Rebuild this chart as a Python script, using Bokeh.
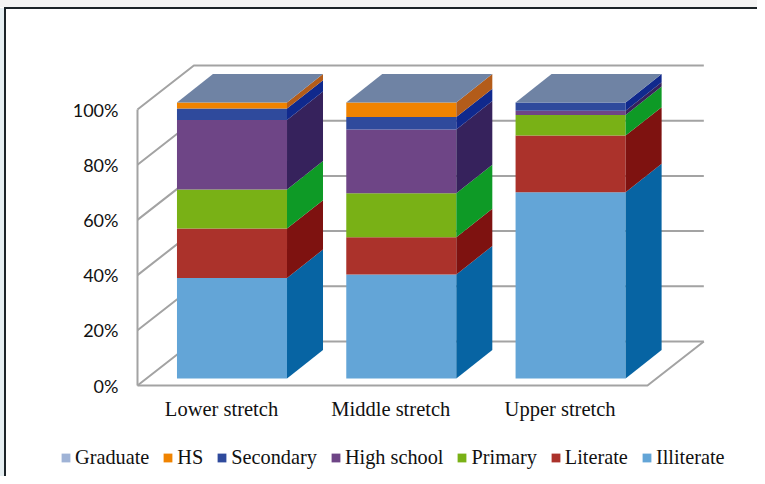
from bokeh.plotting import figure
from bokeh.models import Range1d, FixedTicker, Legend, LegendItem, ColumnDataSource
from bokeh.embed import file_html
from bokeh.resources import INLINE

categories = ["Lower stretch", "Middle stretch", "Upper stretch"]
y_ticks = [0, 20, 40, 60, 80, 100]
series_names = ["Illiterate", "Literate", "Primary", "High school", "Secondary", "HS", "Graduate"]
illiterate = [36.4, 37.7, 67.5]
literate = [17.9, 13.5, 20.5]
primary = [14.2, 15.9, 7.5]
high_school = [25.2, 23.1, 1.5]
secondary = [4.1, 4.5, 3.0]
hs = [2.2, 5.3, 0.0]
graduate = [0.0, 0.0, 0.0]
series_values = [illiterate, literate, primary, high_school, secondary, hs, graduate]
front_colors = ["#63a5d7", "#ab322b", "#79b116", "#6e4586", "#2f4a9c", "#f08300", "#9fb3d6"]
side_colors = ["#0764a3", "#7e1210", "#0e9a26", "#36225c", "#10298d", "#b35c1a", "#6f83a4"]
top_color = "#6f83a4"
wall_color = "#a3a3a3"
legend_order = ["Graduate", "HS", "Secondary", "High school", "Primary", "Literate", "Illiterate"]

wall_left, wall_right = -0.4962, 2.516
wall_dx, wall_dy = 0.333, 15.94
bar_shift, bar_width = 0.062, 0.65
bar_dx, bar_dy, bar_base = 0.2126, 10.3, 2.54
ylabel_x, xlabel_y = -0.573, -13.4

FIG_W, FIG_H = 757, 476
p = figure(width=FIG_W, height=FIG_H, output_backend="svg", toolbar_location=None,
           x_range=Range1d(-0.9746, 3.166), y_range=Range1d(-32.97, 125.0),
           x_axis_location="above",
           min_border_left=56, min_border_right=0, min_border_top=40, min_border_bottom=0,
           outline_line_color=None, background_fill_color=None, border_fill_color=None)
p.styles = {
    "background-image": "linear-gradient(#1c2428,#1c2428), linear-gradient(#1c2428,#1c2428), "
                        "linear-gradient(#e6eff2,#e6eff2), linear-gradient(#f4f4f4,#f4f4f4)",
    "background-size": "2px 100%, 100% 2px, 4px 100%, 100% 7px",
    "background-position": "4px 8px, 4px 7px, 0 8px, 0 0",
    "background-repeat": "no-repeat",
}
p.grid.visible = False

xs, ys = [], []
for t in y_ticks:
    xs.append([wall_left, wall_left + wall_dx, wall_right + wall_dx])
    ys.append([t, t + wall_dy, t + wall_dy])
xs.append([wall_left, wall_left]); ys.append([y_ticks[0], y_ticks[-1]])
xs.append([wall_left, wall_right, wall_right + wall_dx]); ys.append([y_ticks[0], y_ticks[0], y_ticks[0] + wall_dy])
p.multi_line(xs, ys, line_color=wall_color, line_width=2)

x_pos = list(range(len(categories)))
cum = [bar_base] * len(categories)
renderers = {}
for name, vals, fc, sc in zip(series_names, series_values, front_colors, side_colors):
    bottom = list(cum)
    top = [b + v for b, v in zip(bottom, vals)]
    cum = top
    src = ColumnDataSource(dict(x=[i + bar_shift for i in x_pos], bottom=bottom, top=top))
    renderers[name] = p.vbar(x="x", width=bar_width, bottom="bottom", top="top", source=src,
                             fill_color=fc, line_color=None)
    side_x, side_y = [], []
    for i, b, t in zip(x_pos, bottom, top):
        r = i + bar_shift + bar_width / 2
        side_x.append([r, r + bar_dx, r + bar_dx, r])
        side_y.append([b, b + bar_dy, t + bar_dy, t])
    p.patches(side_x, side_y, fill_color=sc, line_color=None)

top_x, top_y = [], []
for i, t in zip(x_pos, cum):
    l = i + bar_shift - bar_width / 2
    r = i + bar_shift + bar_width / 2
    top_x.append([l, r, r + bar_dx, l + bar_dx])
    top_y.append([t, t, t + bar_dy, t + bar_dy])
p.patches(top_x, top_y, fill_color=top_color, line_color=None)

xa = p.xaxis[0]
xa.fixed_location = xlabel_y
xa.ticker = FixedTicker(ticks=x_pos)
xa.major_label_overrides = {i: c for i, c in zip(x_pos, categories)}
xa.axis_line_color = None
xa.major_tick_line_color = None
xa.minor_tick_line_color = None
xa.major_tick_out = 0
xa.major_tick_in = 0
xa.minor_tick_out = 0
xa.major_label_text_font = "Liberation Serif"
xa.major_label_text_font_size = "20.5px"
xa.major_label_text_color = "#111111"
xa.major_label_standoff = 2

ya = p.yaxis[0]
ya.fixed_location = ylabel_x
ya.ticker = FixedTicker(ticks=y_ticks)
ya.major_label_overrides = {t: f"{t}%" for t in y_ticks}
ya.axis_line_color = None
ya.major_tick_line_color = None
ya.minor_tick_line_color = None
ya.major_tick_out = 0
ya.major_tick_in = 0
ya.minor_tick_out = 0
ya.major_label_text_font = "Lato"
ya.major_label_text_font_size = "18px"
ya.major_label_text_color = "#111111"
ya.major_label_standoff = 6

legend = Legend(items=[LegendItem(label=n, renderers=[renderers[n]]) for n in legend_order],
                orientation="horizontal", location=(4, 7),
                label_text_font="Liberation Serif", label_text_font_size="20.3px",
                label_text_color="#111111", glyph_width=11, glyph_height=11,
                label_standoff=4, spacing=13, padding=0, margin=0,
                border_line_color=None, background_fill_color=None)
p.add_layout(legend, "center")

open("out.html", "w").write(file_html(p, INLINE))
